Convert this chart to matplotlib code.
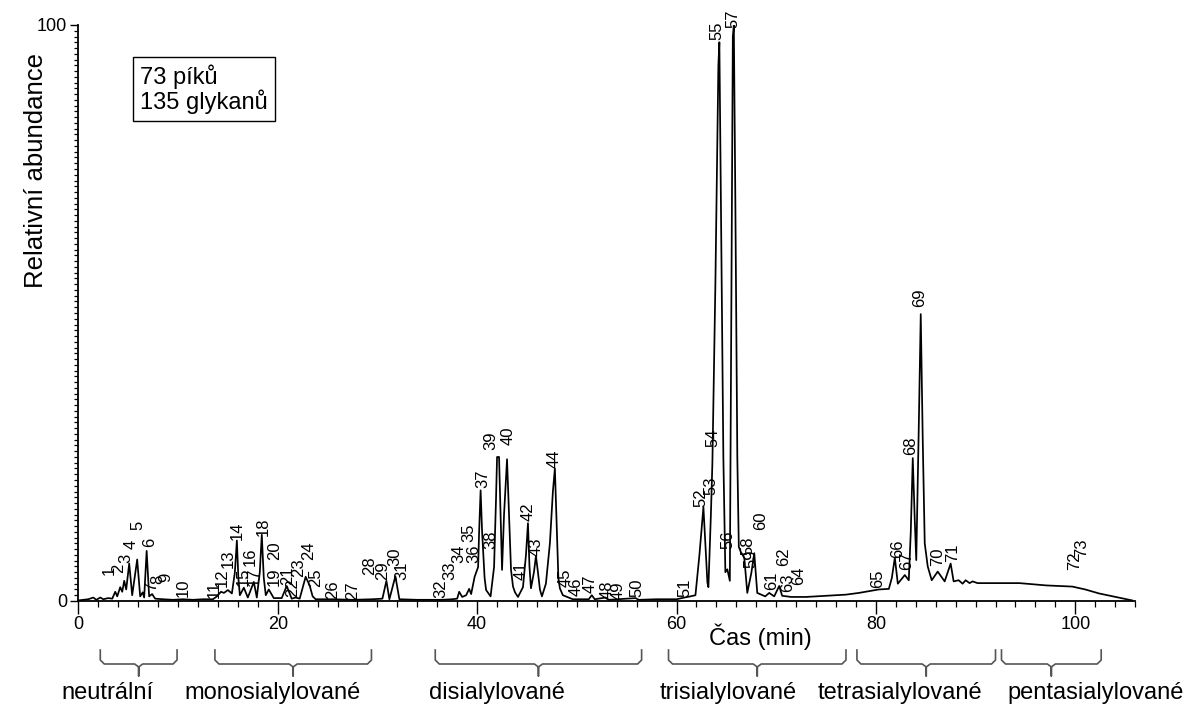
import matplotlib
matplotlib.use("Agg")
import matplotlib.pyplot as plt
from matplotlib.ticker import MultipleLocator, FixedLocator
import matplotlib.transforms as mtransforms

plt.rcParams['font.family'] = ['Liberation Sans', 'DejaVu Sans']

# ---- chromatogram trace (time in min, relative abundance) ----
trace_time = [0.0, 1.0, 1.5, 1.8, 2.2, 2.5, 3.0, 3.4, 3.7, 3.9, 4.2, 4.4, 4.6, 4.8,
              5.1, 5.4, 5.9, 6.2, 6.45, 6.6, 6.85, 7.1, 7.4, 7.7, 8.5, 9.5, 10.5,
              11.5, 12.5, 13.5, 13.9, 14.3, 14.6, 15.0, 15.4, 15.7, 15.9, 16.05, 16.2,
              16.6, 17.0, 17.6, 17.9, 18.2, 18.4, 18.6, 18.8, 19.1, 19.6, 20.4,
              20.9, 21.4, 21.8, 22.2, 22.8, 23.2, 23.5, 23.8, 25.5, 27.5, 29.5,
              30.5, 30.9, 31.2, 31.8, 32.2, 34.0, 36.5, 37.5, 38.0, 38.2, 38.5,
              38.9, 39.2, 39.4, 39.75, 40.1, 40.2, 40.35, 40.5, 40.6, 40.75, 40.9,
              41.35, 41.7, 41.9, 42.0, 42.2, 42.35, 42.5, 42.7, 43.0, 43.2, 43.4,
              43.6, 43.8, 44.1, 44.6, 44.9, 45.1, 45.25, 45.4, 45.7, 45.9, 46.1,
              46.3, 46.5, 46.9, 47.3, 47.6, 47.8, 48.0, 48.15, 48.3, 48.6, 49.6,
              50.5, 51.2, 51.5, 51.8, 52.9, 53.2, 55.9, 56.2, 58.0, 60.0, 60.8,
              61.4, 61.9, 62.3, 62.7, 62.95, 63.1, 63.2, 63.45, 63.6, 63.9, 64.2,
              64.3, 64.45, 64.7, 64.9, 65.1, 65.35, 65.5, 65.65, 65.75, 65.9,
              66.1, 66.25, 66.45, 66.8, 67.1, 67.5, 67.8, 68.1, 68.9, 69.3, 69.8,
              70.3, 70.6, 71.5, 73.0, 75.0, 77.0, 78.3, 80.3, 81.3, 81.6, 81.9,
              82.2, 82.9, 83.3, 83.5, 83.7, 83.9, 84.05, 84.3, 84.5, 84.7, 84.9,
              85.2, 85.6, 86.2, 86.9, 87.5, 87.8, 88.3, 88.7, 89.0, 89.4, 89.7,
              90.2, 91.0, 94.4, 97.1, 99.7, 101.0, 102.4, 105.7]
trace_abund = [0.1, 0.3, 0.6, 0.2, 0.6, 0.3, 0.5, 0.4, 1.6, 0.8, 2.4, 1.6, 3.5, 2.0,
               6.5, 1.0, 7.2, 0.8, 1.5, 0.6, 8.7, 0.8, 1.2, 0.4, 0.3, 0.2, 0.3,
               0.2, 0.3, 0.3, 0.8, 1.6, 1.4, 1.9, 1.3, 5.0, 10.5, 4.0, 1.0,
               2.3, 0.6, 3.3, 0.6, 5.0, 11.5, 4.0, 1.0, 2.0, 0.5, 0.5,
               2.6, 0.4, 0.6, 0.4, 4.2, 2.7, 0.8, 0.3, 0.3, 0.2, 0.3,
               0.4, 3.5, 0.3, 4.3, 0.3, 0.2, 0.2, 0.3, 0.4, 1.6, 0.7,
               1.0, 2.1, 1.2, 4.2, 5.9, 12.0, 19.2, 12.0, 8.8, 4.0, 1.9,
               0.8, 5.9, 18.0, 25.0, 25.0, 15.0, 5.4, 15.0, 24.6, 15.0, 5.4,
               2.5, 1.5, 0.7, 2.4, 8.0, 13.5, 6.0, 2.2, 5.0, 7.8, 5.0,
               2.0, 0.8, 3.0, 10.0, 19.0, 23.0, 12.0, 4.0, 2.2, 1.0, 0.3,
               0.3, 0.3, 1.0, 0.3, 0.6, 0.2, 0.5, 0.2, 0.3, 0.3, 0.6,
               0.8, 1.0, 8.0, 16.3, 8.0, 3.2, 2.4, 15.0, 24.0, 55.0, 93.0,
               97.0, 70.0, 25.0, 5.0, 5.5, 3.5, 50.0, 98.0, 100.0, 70.0,
               25.0, 9.4, 8.5, 7.5, 1.4, 4.8, 8.3, 1.4, 0.8, 1.4, 0.8,
               2.6, 0.9, 0.7, 0.7, 0.9, 1.1, 1.4, 2.0, 2.1, 4.0, 7.5,
               3.0, 4.5, 3.6, 12.0, 24.8, 14.0, 7.1, 30.0, 49.8, 28.0, 10.0,
               6.0, 3.6, 5.1, 3.4, 6.5, 3.4, 3.6, 3.0, 3.6, 3.1, 3.4,
               3.1, 3.1, 3.1, 2.7, 2.5, 2.0, 1.3, 0.1]

# ---- peak labels: number, label time, label height ----
peak_numbers = list(range(1, 74))
peak_label_time = [3.1, 4.0, 4.8, 5.3, 6.0, 7.1, 7.3, 8.0, 8.8, 10.5,
                   13.6, 14.4, 15.0, 15.9, 16.5, 17.2, 17.6, 18.5, 19.6, 19.7,
                   21.0, 21.5, 22.1, 23.1, 23.8, 25.5, 27.5, 29.2, 30.5, 31.7,
                   32.4, 36.4, 37.3, 38.2, 39.2, 39.7, 40.6, 41.35, 41.4, 43.1,
                   44.4, 45.1, 45.9, 47.7, 48.8, 49.9, 51.3, 53.0, 54.1, 56.0,
                   60.8, 62.4, 63.4, 63.6, 64.1, 65.2, 65.7, 67.2, 67.5, 68.4,
                   69.5, 70.7, 71.1, 72.2, 80.2, 82.2, 83.1, 83.5, 84.4, 86.2,
                   87.7, 99.9, 100.6]
peak_label_height = [4.5, 4.8, 6.6, 9.0, 12.3, 9.4, 1.7, 3.0, 3.3, 0.7,
                     0.5, 2.5, 5.7, 10.6, 2.6, 6.0, 2.6, 11.2, 2.6, 7.1,
                     2.8, 0.7, 4.2, 7.1, 2.5, 0.4, 0.2, 4.5, 3.6, 6.0,
                     3.7, 0.5, 3.6, 6.6, 10.3, 6.6, 19.6, 9.0, 26.2, 27.0,
                     3.6, 13.8, 7.8, 23.0, 2.4, 0.9, 1.3, 0.3, 0.2, 0.7,
                     0.7, 16.4, 18.4, 26.8, 97.4, 9.1, 99.5, 8.0, 5.7, 12.3,
                     1.9, 6.0, 1.6, 2.8, 2.2, 7.4, 5.4, 25.3, 51.0, 6.0,
                     6.8, 5.4, 7.7]

# ---- glycan classes and their elution ranges (min) ----
group_names = ["neutrální", "monosialylované", "disialylované",
               "trisialylované", "tetrasialylované", "pentasialylované"]
group_start = [2.2, 13.7, 35.8, 59.2, 78.1, 92.6]
group_end = [9.9, 29.4, 56.5, 77.0, 92.0, 102.6]
group_label_time = [2.9, 19.5, 42.0, 65.2, 82.4, 102.0]

x_ticks = [0, 20, 40, 60, 80, 100]
y_ticks = [0, 100]
info_text = "73 píků\n135 glykanů"
x_label = "Čas (min)"
y_label = "Relativní abundance"

fig = plt.figure(figsize=(12, 7.14), dpi=100)
ax = fig.add_axes([0.0653, 0.1583, 0.8806, 0.8067])

ax.plot(trace_time, trace_abund, color='black', lw=1.25)

for n, t, h in zip(peak_numbers, peak_label_time, peak_label_height):
    ax.text(t, h, str(n), rotation=90, ha='center', va='bottom',
            fontsize=12, clip_on=False)

ax.set_xlim(0, 106)
ax.set_ylim(0, 100)
for s in ['top', 'right']:
    ax.spines[s].set_visible(False)
ax.spines['left'].set_linewidth(1.3)
ax.spines['bottom'].set_linewidth(1.3)

ax.xaxis.set_major_locator(FixedLocator(x_ticks))
ax.xaxis.set_minor_locator(MultipleLocator(2))
ax.yaxis.set_major_locator(FixedLocator(y_ticks))
ax.yaxis.set_minor_locator(MultipleLocator(1))
ax.tick_params(axis='x', which='major', length=9, width=1.0, labelsize=13, pad=2)
ax.tick_params(axis='x', which='minor', length=4, width=0.9)
ax.tick_params(axis='y', which='major', length=6, width=1.0, labelsize=13, pad=2)
ax.tick_params(axis='y', which='minor', length=3, width=0.9)

fig.text(760 / 1200, 1 - 637 / 714, x_label, ha='center', va='center', fontsize=17)
fig.text(36 / 1200, 1 - 170 / 714, y_label, ha='center', va='center',
         rotation=90, fontsize=18.5)

ax.text(140 / 1200, 1 - 89 / 714, info_text, transform=fig.transFigure,
        ha='left', va='center', fontsize=17, linespacing=1.05,
        bbox=dict(boxstyle='square,pad=0.3', fc='white', ec='black', lw=1.0))

# braces under the axis
trans = mtransforms.blended_transform_factory(ax.transData, fig.transFigure)
def fy(py):
    return 1 - py / 714
dx = 0.4
for name, a, b, lt in zip(group_names, group_start, group_end, group_label_time):
    c = (a + b) / 2
    xs = [a, a, a + dx, c - dx, c, c, c, c + dx, b - dx, b, b]
    ys = [650, 660, 664, 664, 667, 676, 667, 664, 664, 660, 650]
    ax.plot(xs, [fy(v) for v in ys], transform=trans, color='#555555',
            lw=1.2, clip_on=False)
    ax.text(lt, fy(693), name, transform=trans, ha='center', va='center',
            fontsize=17, clip_on=False)

fig.savefig("out.png", dpi=100)
